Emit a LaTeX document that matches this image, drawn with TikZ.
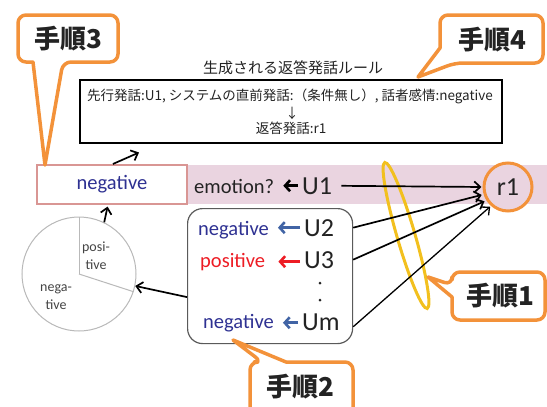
\documentclass[tikz,border=0pt]{standalone}
\usepackage{fontspec}
\setmainfont{Carlito}
\newfontfamily\cjk{Noto Sans CJK JP}
\usetikzlibrary{arrows.meta,calc}
\definecolor{corange}{RGB}{243,146,58}
\definecolor{cyellow}{RGB}{242,192,30}
\definecolor{cpink}{RGB}{234,212,224}
\definecolor{cnegborder}{RGB}{217,150,148}
\definecolor{cnavy}{RGB}{46,49,146}
\definecolor{cblue}{RGB}{65,100,165}
\definecolor{cred}{RGB}{237,28,36}
\definecolor{cgray}{RGB}{185,185,185}
\definecolor{ctext}{RGB}{35,35,35}
\definecolor{cbox}{RGB}{90,90,90}
\begin{document}
\begin{tikzpicture}[x=1pt,y=-1pt,
  callout/.style={draw=corange, line width=3.5pt, fill=white, line join=round},
  calltext/.style={font=\cjk\bfseries\fontsize{26}{30}\selectfont, text=ctext, inner sep=0pt},
  bigarr/.style={draw=black, line width=1.7pt, -{Straight Barb[length=6pt,width=11pt]}},
  thinarr/.style={draw=black, line width=1.3pt, -{Straight Barb[length=6pt,width=11pt]}},
  smallarr/.style={line width=2.6pt, -{Straight Barb[length=5pt,width=11pt]}, shorten <=4pt, shorten >=9pt},
  lbl/.style={font=\fontsize{20.5}{24}\selectfont, inner sep=0pt},
  ulbl/.style={font=\fontsize{26}{30}\selectfont, inner sep=0pt, text=ctext},
  rtext/.style={font=\cjk\fontsize{13.5}{16}\selectfont, text=ctext, inner sep=0pt},
  pietxt/.style={font=\fontsize{14}{18}\selectfont, text=ctext!85, align=center, inner sep=0pt},
  dotmark/.style={circle, fill=ctext, inner sep=0pt, minimum size=3pt}]
\useasboundingbox (0,0) rectangle (547,407);
\clip (0,0) rectangle (547,407);

% pink band
\fill[cpink] (187,165) rectangle (547,204);

% rule box
\node[font=\cjk\fontsize{15}{18}\selectfont, text=ctext, inner sep=0pt] (title) at (293,68) {生成される返答発話ルール};
\node[draw=black, line width=1.5pt, minimum width=422pt, minimum height=63pt, inner sep=0pt, anchor=north west] (rule) at (79,79) {};
\node[rtext] (rl1) at (290,96) {先行発話:U1, システムの直前発話:（条件無し）, 話者感情:negative};
\node[rtext] (rl2) at (292,113) {↓};
\node[rtext] (rl3) at (291,128) {返答発話:r1};

% negative box
\node[draw=cnegborder, line width=1.2pt, fill=white, minimum width=150pt, minimum height=39pt, inner sep=0pt,
      font=\fontsize{20.5}{24}\selectfont, text=cnavy] (negbox) at (112,184.5) {negative};

% pie
\node[circle, draw=cgray, line width=1pt, fill=white, minimum size=114pt, inner sep=0pt] (pie) at (79,274) {};
\draw[cgray, line width=1pt] (pie.center) -- (pie.90);
\draw[cgray, line width=1pt] (pie.center) -- (pie.-18);
\node[pietxt] (postxt) at (96,256) {posi-\\tive};
\node[pietxt] (negtxt) at (56,297) {nega-\\tive};

% utterance box
\node[draw=cbox, line width=1.2pt, rounded corners=15pt, minimum width=165pt, minimum height=135pt, inner sep=0pt, anchor=north west] (ubox) at (187,208) {};

% row U1
\node[lbl, anchor=base west, text=ctext] (emo) at (194,193) {emotion?};
\node[ulbl, anchor=base west] (U1) at (302,194) {U1};
\draw[smallarr, black] (U1.west) -- (U1.west -| emo.east);

% rows in box
\node[lbl, anchor=base west, text=cnavy] (neg2) at (198,235) {negative};
\node[ulbl, anchor=base west] (U2) at (304,236) {U2};
\draw[smallarr, cblue] (U2.west) -- (U2.west -| neg2.east);

\node[lbl, anchor=base west, text=cred] (pos3) at (200,267) {positive};
\node[ulbl, anchor=base west] (U3) at (304,268) {U3};
\draw[smallarr, cred] ($(U3.west)+(0,2)$) -- ($(U3.west -| pos3.east)+(4,2)$);

\node[dotmark] (dot1) at (320,283) {};
\node[dotmark] (dot2) at (320,300) {};

\node[lbl, anchor=base west, text=cnavy] (negm) at (203,328) {negative};
\node[ulbl, anchor=base west] (Um) at (302,330) {Um};
\draw[smallarr, cblue] ($(Um.west)+(0,1)$) -- ($(Um.west -| negm.east)+(0,1)$);

% yellow ellipse
\draw[cyellow, line width=3pt, rotate around={-73.8:(406,235.5)}] (406,235.5) ellipse [x radius=76pt, y radius=9pt];

% r1
\node[circle, draw=corange, line width=3pt, fill=cpink, minimum size=48pt, inner sep=0pt,
      font=\fontsize{26}{30}\selectfont, text=ctext] (r1) at (508,187) {r1};

% arrows to r1
\draw[bigarr, shorten <=9pt, shorten >=1pt] (U1.east) -- (r1.west);
\draw[bigarr, shorten >=2pt] (ubox.east |- U2.west) -- (r1.197);
\draw[bigarr, shorten >=2pt] (ubox.east |- U3.west) -- (r1.212);
\draw[thinarr, shorten >=1pt] ($(ubox.east |- Um.west)+(0,5)$) -- (r1.228);

% other arrows
\draw[bigarr] ($(ubox.west)+(0,21)$) -- (pie.-12);
\draw[bigarr, shorten >=2pt] (pie.64) -- ($(negbox.south)+(-4,0)$);
\draw[bigarr, shorten <=1pt] (negbox.north) -- ($(rule.south west)+(60,9)$);

% callouts
\draw[callout] (33,62) [rounded corners=8pt] -- (18,62) -- (18,15) -- (118,15) -- (118,62) -- (63,62) [sharp corners] -- (45,165) -- cycle;
\node[calltext] (t3) at (68,39) {手順3};

\draw[callout] (440,48) [rounded corners=8pt] -- (440,15) -- (543,15) -- (543,63) -- (455,63) [sharp corners] -- (418,77) -- cycle;
\node[calltext] (t4) at (492,40) {手順4};

\draw[callout] (452,297) [rounded corners=8pt] -- (452,320) -- (545,320) -- (545,272) -- (452,272) -- (452,285) [sharp corners] -- (428,277) -- cycle;
\node[calltext] (t1) at (500,296) {手順1};

\draw[callout] (286,362) [rounded corners=8pt] -- (353,362) -- (353,425) -- (250,425) -- (250,362) -- (262,362) [sharp corners] -- (233,340) -- cycle;
\node[calltext] (t2) at (300,387) {手順2};
\end{tikzpicture}
\end{document}
